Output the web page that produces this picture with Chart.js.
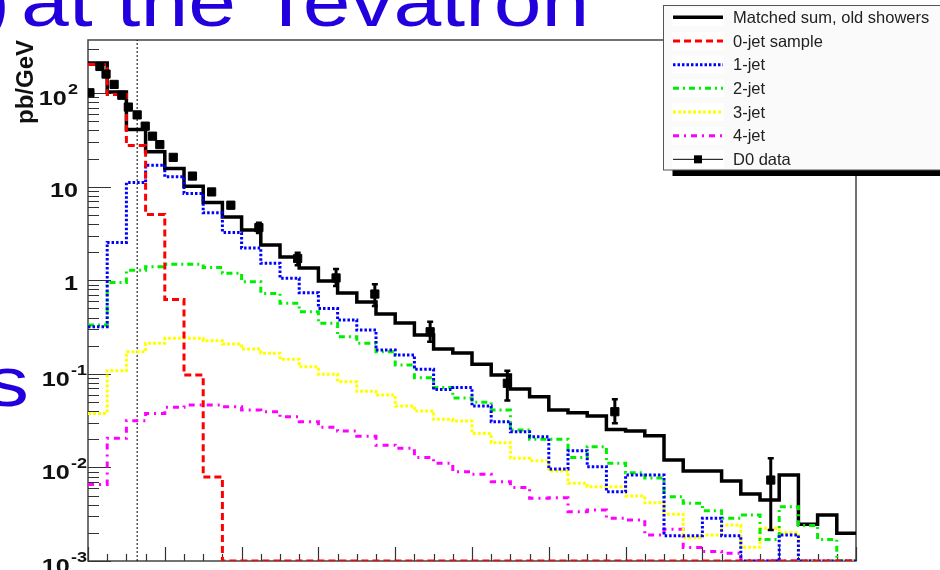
<!DOCTYPE html>
<html lang="en">
<head>
<meta charset="UTF-8">
<title>Z pT at the Tevatron</title>
<script src="https://cdn.jsdelivr.net/npm/chart.js@4"></script>
<style>
  html, body { margin: 0; padding: 0; background: #fff; }
  #wrap { width: 940px; height: 570px; overflow: hidden; }
</style>
</head>
<body>
<div id="wrap"><canvas id="c" width="940" height="570"></canvas></div>
<script>
// 5 GeV bins, lower edges (GeV)
const BIN_LOW = [0, 5, 10, 15, 20, 25, 30, 35, 40, 45, 50, 55, 60, 65, 70, 75, 80, 85, 90, 95,
                 100, 105, 110, 115, 120, 125, 130, 135, 140, 145, 150, 155, 160, 165, 170, 175, 180, 185, 190, 195];
const BIN_END = 200;

// pb/GeV per bin, 0 = empty bin (drawn on the floor of the plot)
const matchedSum = [210, 103, 40.9, 23.6, 15.7, 10.1, 6.8, 4.76, 3.45, 2.38,
                    1.77, 1.35, 0.98, 0.73, 0.585, 0.435, 0.349, 0.26, 0.184, 0.167,
                    0.127, 0.097, 0.069, 0.0569, 0.041, 0.0384, 0.0354, 0.0255, 0.0245, 0.0218,
                    0.012, 0.00916, 0.00916, 0.00716, 0.0052, 0.00448, 0.0083, 0.00247, 0.0031, 0.00198];
const jet0 = [203, 97, 27.5, 5.06, 0.625, 0.097, 0.0079, 0, 0, 0,
              0, 0, 0, 0, 0, 0, 0, 0, 0, 0,
              0, 0, 0, 0, 0, 0, 0, 0, 0, 0,
              0, 0, 0, 0, 0, 0, 0, 0, 0, 0];
const jet1 = [0.318, 2.54, 11.1, 17.0, 12.8, 8.47, 5.26, 3.25, 2.22, 1.52,
              1.05, 0.735, 0.50, 0.376, 0.294, 0.18, 0.159, 0.112, 0.068, 0.0717,
              0.0453, 0.0308, 0.024, 0.0213, 0.0096, 0.0151, 0.0102, 0.0055, 0.0083, 0.0083,
              0.00186, 0.00186, 0.00286, 0.00186, 0, 0, 0.0019, 0, 0, 0];
const jet2 = [0.332, 0.945, 1.28, 1.40, 1.48, 1.48, 1.37, 1.19, 0.965, 0.724,
              0.567, 0.461, 0.347, 0.249, 0.212, 0.172, 0.124, 0.0908, 0.0717, 0.0551,
              0.0496, 0.041, 0.0251, 0.020, 0.020, 0.0128, 0.0166, 0.0111, 0.00877, 0.0077,
              0.00487, 0.00413, 0.00345, 0.00286, 0.0031, 0.0017, 0.0038, 0.0024, 0.0017, 0];
const jet3 = [0.0378, 0.108, 0.172, 0.212, 0.24, 0.24, 0.226, 0.208, 0.184, 0.166,
              0.143, 0.119, 0.0988, 0.0824, 0.0652, 0.0594, 0.0453, 0.0401, 0.0327, 0.0313,
              0.0231, 0.0184, 0.0125, 0.0118, 0.00916, 0.00676, 0.00622, 0.00622, 0.00494, 0.0042,
              0.00316, 0.00177, 0.0019, 0.00243, 0.0014, 0.00224, 0.002, 0, 0, 0];
const jet4 = [0.00659, 0.0205, 0.0316, 0.0378, 0.0439, 0.0464, 0.0464, 0.0446, 0.041, 0.0394,
              0.0348, 0.0308, 0.0268, 0.0245, 0.0216, 0.0173, 0.016, 0.0128, 0.0111, 0.009,
              0.00844, 0.00703, 0.00612, 0.00468, 0.00475, 0.00336, 0.00351, 0.00286, 0.00274, 0.0019,
              0.00218, 0.00139, 0.00126, 0.00121, 0, 0, 0, 0, 0, 0];

// D0 data points
const d0X  = [0.5, 3.1, 4.7, 6.8, 8.8, 10.5, 12.8, 14.9, 16.8, 18.7, 22.2,
              27.2, 32.2, 37.2, 44.5, 54.6, 64.6, 74.7, 89.1, 109.2, 137.2, 177.8];
const d0Y  = [101, 193, 160, 124, 95, 71, 58.6, 44.4, 34.7, 28.2, 20.6,
              13.0, 8.8, 6.35, 3.66, 1.71, 1.06, 0.713, 0.282, 0.0793, 0.0394, 0.00733];
const d0Lo = [96, 184, 152, 118, 90, 67.5, 55.7, 42.2, 33, 26.8, 19.6,
              12.3, 8.3, 5.9, 3.21, 1.45, 0.869, 0.531, 0.220, 0.0519, 0.0296, 0.00214];
const d0Hi = [106, 202, 168, 130, 100, 74.5, 61.5, 46.6, 36.5, 29.6, 21.6,
              13.7, 9.3, 6.8, 4.11, 1.97, 1.32, 0.906, 0.361, 0.108, 0.0534, 0.0125];

const QCUT = 12.8;   // dotted vertical line
const Y_MIN = 0.001;
const Y_MAX = 370;

const Y_TICK_VALUES = [0.001, 0.01, 0.1, 1, 10, 100];
const Y_TICK_LABELS = ['10^-3', '10^-2', '10^-1', '1', '10', '10^2'];

const FONT = '"Liberation Sans", Arial, Helvetica, sans-serif';

function histPoints(vals) {
    const pts = BIN_LOW.map((x, i) => ({ x: x, y: vals[i] > 0 ? vals[i] : Y_MIN }));
    const last = vals[vals.length - 1];
    pts.push({ x: BIN_END, y: last > 0 ? last : Y_MIN });
    return pts;
}

function hist(label, vals, color, width, dash) {
    return {
        label: label,
        data: histPoints(vals),
        borderColor: color,
        borderWidth: width,
        borderDash: dash,
        stepped: 'before',
        pointRadius: 0,
        fill: false
    };
}

const datasets = [
    {
        label: 'D0 data',
        data: d0X.map((x, i) => ({ x: x, y: d0Y[i] })),
        showLine: false,
        pointStyle: 'rect',
        pointRadius: 5.8,
        backgroundColor: '#000',
        borderColor: '#000',
        borderWidth: 1
    },
    hist('0-jet sample', jet0, '#ff0000', 3, [7, 4]),
    hist('1-jet', jet1, '#0000ff', 3, [2.5, 2]),
    hist('2-jet', jet2, '#00ee00', 3, [6, 4, 2, 4]),
    hist('3-jet', jet3, '#ffff00', 3, [3, 2]),
    hist('4-jet', jet4, '#ff00ff', 3, [6, 5, 2, 5]),
    hist('Matched sum, old showers', matchedSum, '#000000', 3.5, []),
    {
        label: 'qcut',
        data: [{ x: QCUT, y: Y_MIN }, { x: QCUT, y: Y_MAX }],
        borderColor: '#000',
        borderWidth: 1,
        borderDash: [2, 2],
        pointRadius: 0
    }
];

const LEGEND_ORDER = ['Matched sum, old showers', '0-jet sample', '1-jet', '2-jet', '3-jet', '4-jet', 'D0 data'];

// frame and inward ticks, ROOT style
const framePlugin = {
    id: 'frame',
    beforeDatasetsDraw(chart) {
        const ctx = chart.ctx;
        const a = chart.chartArea;
        const xs = chart.scales.x, ys = chart.scales.y;
        ctx.save();
        ctx.strokeStyle = '#444';
        ctx.lineWidth = 1.5;
        ctx.strokeRect(a.left, a.top, a.right - a.left, a.bottom - a.top);

        ctx.lineWidth = 1.2;
        ctx.strokeStyle = '#333';
        ctx.beginPath();
        for (let e = -3; e <= 2; e++) {
            for (let m = 1; m <= 9; m++) {
                const v = m * Math.pow(10, e);
                if (v > Y_MAX) break;
                const py = Math.round(ys.getPixelForValue(v)) + 0.5;
                const len = m === 1 ? 23 : 11;
                ctx.moveTo(a.left, py);
                ctx.lineTo(a.left + len, py);
            }
        }
        for (let x = 0; x <= BIN_END; x += 5) {
            const px = Math.round(xs.getPixelForValue(x)) + 0.5;
            const len = x % 20 === 0 ? 14 : 7;
            ctx.moveTo(px, a.bottom);
            ctx.lineTo(px, a.bottom - len);
        }
        ctx.stroke();
        ctx.restore();
    }
};

const errorBarPlugin = {
    id: 'errorBars',
    afterDatasetsDraw(chart) {
        const ctx = chart.ctx;
        const xs = chart.scales.x, ys = chart.scales.y;
        const a = chart.chartArea;
        ctx.save();
        ctx.beginPath();
        ctx.rect(a.left, a.top, a.right - a.left, a.bottom - a.top);
        ctx.clip();
        ctx.strokeStyle = '#000';
        d0X.forEach((x, i) => {
            const px = xs.getPixelForValue(x);
            const y1 = ys.getPixelForValue(d0Lo[i]);
            const y2 = ys.getPixelForValue(d0Hi[i]);
            ctx.lineWidth = 3;
            ctx.beginPath();
            ctx.moveTo(px, y1);
            ctx.lineTo(px, y2);
            ctx.stroke();
            ctx.lineWidth = 2.5;
            ctx.beginPath();
            ctx.moveTo(px - 3, y1); ctx.lineTo(px + 3, y1);
            ctx.moveTo(px - 3, y2); ctx.lineTo(px + 3, y2);
            ctx.stroke();
        });
        ctx.restore();
    }
};

function drawPowLabel(ctx, label, xRight, py) {
    const parts = label.split('^');
    const base = parts[0], exp = parts[1];
    const baseFont = 'bold 21px ' + FONT;
    const expFont = 'bold 15px ' + FONT;
    ctx.save();
    ctx.translate(xRight, 0);
    ctx.scale(1.2, 1);
    ctx.fillStyle = '#111';
    ctx.textAlign = 'left';
    ctx.textBaseline = 'alphabetic';
    ctx.font = baseFont;
    const wb = ctx.measureText(base).width;
    let we = 0;
    if (exp) {
        ctx.font = expFont;
        we = ctx.measureText(exp).width + 1;
    }
    const x0 = -(wb + we);
    const baseline = py + (exp ? 12 : 10);
    ctx.font = baseFont;
    ctx.fillText(base, x0, baseline);
    if (exp) {
        ctx.font = expFont;
        ctx.fillText(exp, x0 + wb + 1, baseline - 11);
    }
    ctx.restore();
}

const textPlugin = {
    id: 'texts',
    afterDraw(chart) {
        const ctx = chart.ctx;
        const ys = chart.scales.y;

        // y tick labels
        Y_TICK_VALUES.forEach((v, i) => {
            const lab = Y_TICK_LABELS[i];
            const right = lab.indexOf('^-') >= 0 ? 87 : 78;
            drawPowLabel(ctx, lab, right, ys.getPixelForValue(v));
        });

        // y axis title
        ctx.save();
        ctx.translate(33, 40);
        ctx.rotate(-Math.PI / 2);
        ctx.font = 'bold 24px ' + FONT;
        ctx.fillStyle = '#111';
        ctx.textAlign = 'right';
        ctx.textBaseline = 'alphabetic';
        ctx.fillText('pb/GeV', 0, 0);
        ctx.restore();

        // slide text around the plot
        ctx.save();
        ctx.fillStyle = '#2200dd';
        ctx.font = '71px ' + FONT;
        ctx.textBaseline = 'alphabetic';
        ctx.save();
        ctx.scale(1.21, 1);
        ctx.textAlign = 'right';
        ctx.fillText(')', 10 / 1.21, 26);
        ctx.textAlign = 'left';
        ctx.fillText('at the Tevatron', 21 / 1.21, 26);
        ctx.textAlign = 'right';
        ctx.fillText('s', 29 / 1.21, 406);
        ctx.restore();
        ctx.restore();

        // legend box with shadow
        const lx = 663.5, ly = 5.5, lw = 300, lh = 164.5;
        ctx.save();
        ctx.fillStyle = '#000';
        ctx.fillRect(lx + 9, ly + 6, lw, lh);
        ctx.fillStyle = '#fafafa';
        ctx.fillRect(lx, ly, lw, lh);
        ctx.strokeStyle = '#555';
        ctx.lineWidth = 1;
        ctx.strokeRect(lx, ly, lw, lh);

        LEGEND_ORDER.forEach((name, i) => {
            const ds = chart.data.datasets.find(d => d.label === name);
            const cy = 17.3 + i * 23.67;
            ctx.fillStyle = '#fff';
            ctx.fillRect(672, cy - 9, 52, 18);
            ctx.beginPath();
            ctx.moveTo(673, cy);
            ctx.lineTo(723, cy);
            if (name === 'D0 data') {
                ctx.setLineDash([]);
                ctx.strokeStyle = '#000';
                ctx.lineWidth = 1;
                ctx.stroke();
                ctx.fillStyle = '#000';
                ctx.fillRect(694, cy - 4, 8, 8);
            } else {
                ctx.setLineDash(ds.borderDash || []);
                ctx.strokeStyle = ds.borderColor;
                ctx.lineWidth = ds.borderWidth;
                ctx.stroke();
                ctx.setLineDash([]);
            }
            ctx.fillStyle = '#222';
            ctx.font = '16.5px ' + FONT;
            ctx.textAlign = 'left';
            ctx.textBaseline = 'middle';
            ctx.fillText(name, 733, cy + 1);
        });
        ctx.restore();
    }
};

new Chart(document.getElementById('c'), {
    type: 'line',
    data: { datasets: datasets },
    options: {
        responsive: false,
        animation: false,
        devicePixelRatio: 1,
        events: [],
        layout: { padding: { left: 88, right: 84, top: 40, bottom: 9 } },
        scales: {
            x: { type: 'linear', min: 0, max: BIN_END, display: false },
            y: { type: 'logarithmic', min: Y_MIN, max: Y_MAX, display: false }
        },
        plugins: {
            legend: { display: false },
            tooltip: { enabled: false }
        }
    },
    plugins: [framePlugin, errorBarPlugin, textPlugin]
});
</script>
</body>
</html>
